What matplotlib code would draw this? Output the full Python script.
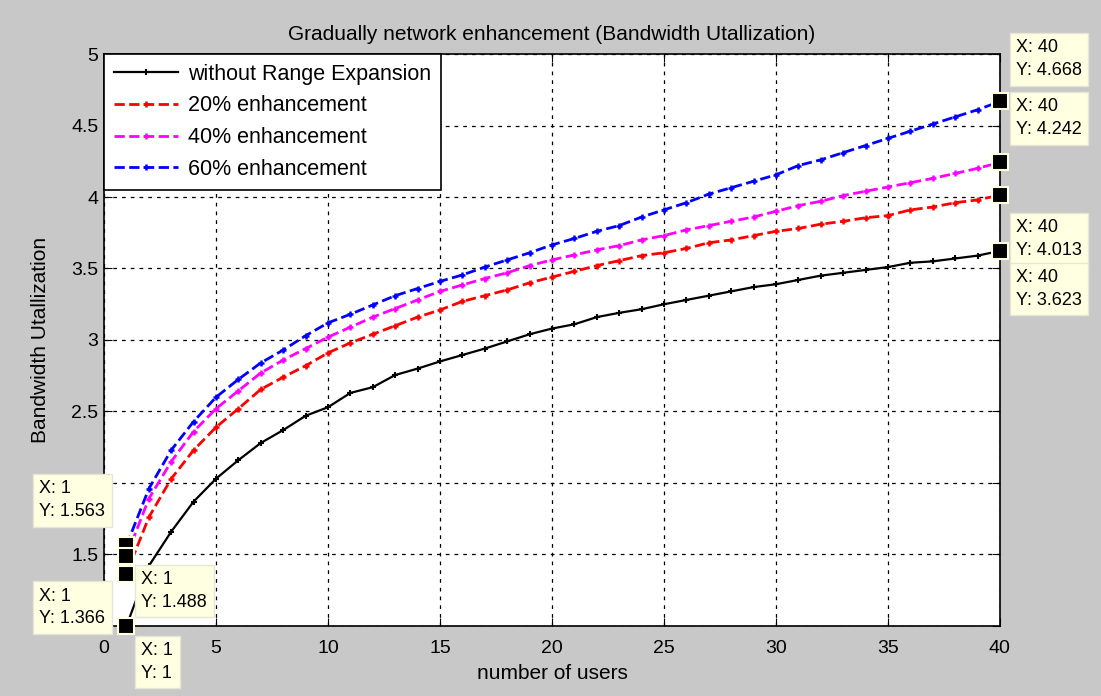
import matplotlib.pyplot as plt
import numpy as np

plt.rcParams['font.family'] = ['Liberation Sans', 'DejaVu Sans']

users = list(range(1, 41))

no_expansion = [1.0, 1.42, 1.66, 1.87, 2.03, 2.16, 2.28, 2.37, 2.47, 2.53,
                2.63, 2.67, 2.755, 2.80, 2.85, 2.895, 2.94, 2.99, 3.04, 3.08,
                3.11, 3.16, 3.19, 3.215, 3.25, 3.28, 3.31, 3.34, 3.37, 3.39,
                3.42, 3.45, 3.47, 3.49, 3.51, 3.54, 3.55, 3.57, 3.59, 3.623]
enh20 = [1.366, 1.76, 2.03, 2.23, 2.39, 2.52, 2.655, 2.74, 2.82, 2.91,
         2.98, 3.04, 3.10, 3.16, 3.21, 3.27, 3.31, 3.35, 3.40, 3.44,
         3.48, 3.52, 3.555, 3.59, 3.61, 3.64, 3.68, 3.70, 3.73, 3.76,
         3.78, 3.81, 3.83, 3.855, 3.87, 3.91, 3.93, 3.96, 3.98, 4.013]
enh40 = [1.488, 1.89, 2.15, 2.36, 2.52, 2.645, 2.77, 2.86, 2.94, 3.02,
         3.09, 3.16, 3.22, 3.28, 3.34, 3.385, 3.43, 3.47, 3.52, 3.56,
         3.595, 3.63, 3.66, 3.70, 3.73, 3.77, 3.80, 3.83, 3.86, 3.90,
         3.94, 3.97, 4.01, 4.04, 4.07, 4.10, 4.13, 4.165, 4.20, 4.242]
enh60 = [1.563, 1.96, 2.23, 2.43, 2.60, 2.725, 2.84, 2.93, 3.03, 3.12,
         3.18, 3.245, 3.31, 3.36, 3.41, 3.455, 3.51, 3.56, 3.61, 3.665,
         3.71, 3.76, 3.80, 3.86, 3.91, 3.96, 4.02, 4.065, 4.11, 4.155,
         4.22, 4.26, 4.31, 4.36, 4.41, 4.46, 4.51, 4.56, 4.61, 4.668]

labels = ["without Range Expansion", "20% enhancement",
          "40% enhancement", "60% enhancement"]

# "1" and "2" sit behind the data tips in the reference
ytick_labels = ['', '1.5', '', '2.5', '3', '3.5', '4', '4.5', '5']

fig = plt.figure(figsize=(11.01, 6.96), dpi=100, facecolor='#c8c8c8')
ax = fig.add_axes([0.0945, 0.1006, 0.8137, 0.8218])

ax.plot(users, no_expansion, color='black', linestyle='-', lw=1.6,
        marker='+', markersize=5, mew=1.5, label=labels[0])
ax.plot(users, enh20, color='red', linestyle='--', lw=2,
        marker='+', markersize=5, mew=1.8, label=labels[1])
ax.plot(users, enh40, color='magenta', linestyle='--', lw=2,
        marker='+', markersize=5, mew=1.8, label=labels[2])
ax.plot(users, enh60, color='blue', linestyle='--', lw=2,
        marker='+', markersize=5, mew=1.8, label=labels[3])

ax.set_xlim(0, 40)
ax.set_ylim(1, 5)
ax.set_xticks(np.arange(0, 41, 5))
ax.set_yticks(np.arange(1, 5.01, 0.5))
ax.set_yticklabels(ytick_labels)
ax.tick_params(direction='in', top=True, right=True, labelsize=14, length=6)
ax.tick_params(axis='x', pad=10)
ax.tick_params(axis='y', pad=4)
ax.grid(True, color='black', linestyle=(0, (3, 4)), lw=0.9)
for s in ax.spines.values():
    s.set_linewidth(1.2)

ax.set_title("Gradually network enhancement (Bandwidth Utallization)", fontsize=15, pad=10)
ax.set_xlabel("number of users", fontsize=15, labelpad=5)
ax.set_ylabel("Bandwidth Utallization", fontsize=15, labelpad=15)

leg = ax.legend(loc='upper left', borderaxespad=0, fontsize=15.5, fancybox=False,
                numpoints=1, handlelength=3.0, handletextpad=0.45, framealpha=1,
                edgecolor='black', borderpad=0.45, labelspacing=0.5)
leg.get_frame().set_linewidth(1.2)

# data tips: (x, y, text offset in pixels from the point)
tips = [
    (40, enh60[-1], (16, 62)),
    (40, enh40[-1], (16, 64)),
    (40, enh20[-1], (16, -24)),
    (40, no_expansion[-1], (16, -18)),
    (1, enh60[0], (-87, 65)),
    (1, enh40[0], (15, -15)),
    (1, enh20[0], (-87, -14)),
    (1, no_expansion[0], (15, -16)),
]
for x, y, off in tips:
    ax.plot([x], [y], marker='s', color='black', markersize=11, mec='#ffffe1',
            mew=1.5, clip_on=False, zorder=9)
    val = ('%.3f' % y).rstrip('0').rstrip('.')
    ax.annotate("X: %d\nY: %s" % (x, val), xy=(x, y), xytext=off,
                textcoords='offset pixels', ha='left', va='top', fontsize=13,
                linespacing=1.45, annotation_clip=False, zorder=10,
                bbox=dict(boxstyle='square,pad=0.35', fc='#ffffe1', ec='#e6e6d6', lw=1))

fig.savefig("out.png", dpi=100, facecolor=fig.get_facecolor())
